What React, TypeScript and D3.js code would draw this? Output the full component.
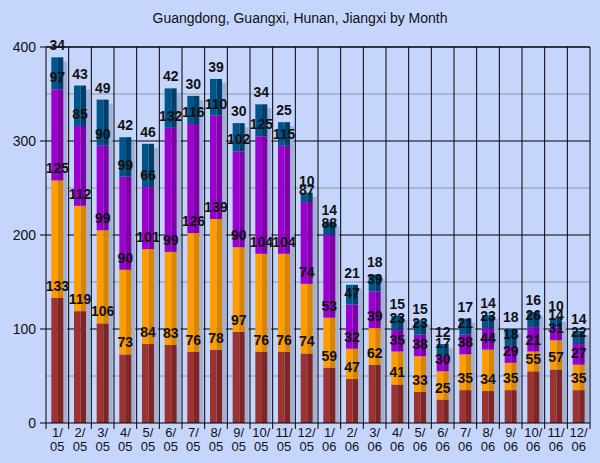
import React from "react";
import * as d3 from "d3";

const months = ["1/05","2/05","3/05","4/05","5/05","6/05","7/05","8/05","9/05","10/05","11/05","12/05","1/06","2/06","3/06","4/06","5/06","6/06","7/06","8/06","9/06","10/06","11/06","12/06"];
const guangdong = [133,119,106,73,84,83,76,78,97,76,76,74,59,47,62,41,33,25,35,34,35,55,57,35];
const guangxi = [125,112,99,90,101,99,126,139,90,104,104,74,53,32,39,35,38,30,38,44,29,21,31,27];
const hunan = [97,85,90,99,66,132,116,110,102,125,115,87,88,47,39,23,23,17,21,23,18,26,14,22];
const jiangxi = [34,43,49,42,46,42,30,39,30,34,25,10,14,21,18,15,15,12,17,14,18,16,10,14];
const seriesNames = ["Guangdong","Guangxi","Hunan","Jiangxi"];
const yTicks = [0,100,200,300,400];
const minorTicks = [50,150,250,350];

const lightColors = ["#9c3333","#ff9c00","#9c00cf","#00558a"];
const darkColors = ["#7c2626","#d98400","#7d00a8","#003f69"];

const W = 600, H = 463;
const left = 46, right = 590, top = 47, bottom = 423;

export default function App() {
  const x = d3.scaleBand<string>().domain(months).range([left, right]).padding(0);
  const y = d3.scaleLinear().domain([0, 400]).range([bottom, top]);
  const table = months.map((m, i) => ({ month: m, Guangdong: guangdong[i], Guangxi: guangxi[i], Hunan: hunan[i], Jiangxi: jiangxi[i] }));
  const stacked = d3.stack<any>().keys(seriesNames)(table);
  const bw = x.bandwidth();
  const barW = bw * 0.53;
  const barOff = (bw - barW) / 2;
  const lightW = barW * 0.55;
  const font = "'Liberation Sans', Arial, sans-serif";

  return (
    <div style={{ position: "fixed", left: 0, top: 0 }}>
      <svg width={W} height={H} style={{ display: "block" }} fontFamily={font}>
        <rect x={0} y={0} width={W} height={H} fill="#c6d5fb" />
        <text x={300} y={23} textAnchor="middle" fontSize={14} fill="#111">Guangdong, Guangxi, Hunan, Jiangxi by Month</text>
        {minorTicks.map(t => (
          <line key={"m" + t} x1={left} x2={right} y1={y(t)} y2={y(t)} stroke="#8c94ac" strokeWidth={1} />
        ))}
        {yTicks.filter(t => t > 0).map(t => (
          <line key={"g" + t} x1={left} x2={right} y1={y(t)} y2={y(t)} stroke="#000" strokeWidth={1} />
        ))}
        {months.map((m) => (
          <line key={"v" + m} x1={(x(m) as number) + bw} x2={(x(m) as number) + bw} y1={top} y2={bottom + 6} stroke="#000" strokeWidth={1} />
        ))}
        {months.map((m, i) => {
          const total = guangdong[i] + guangxi[i] + hunan[i] + jiangxi[i];
          const bx = (x(m) as number) + barOff;
          return (
            <rect key={"s" + m} x={bx + barW} y={y(total) + 4} width={4} height={bottom - y(total) - 4} fill="#a3afd3" />
          );
        })}
        {stacked.map((s, si) => (
          <g key={s.key}>
            {s.map((d, i) => {
              const bx = (x(months[i]) as number) + barOff;
              const y0 = y(d[0]), y1 = y(d[1]);
              return (
                <g key={i}>
                  <rect x={bx} y={y1} width={lightW} height={y0 - y1} fill={lightColors[si]} />
                  <rect x={bx + lightW} y={y1} width={barW - lightW} height={y0 - y1} fill={darkColors[si]} />
                </g>
              );
            })}
          </g>
        ))}
        <line x1={left} x2={right} y1={top} y2={top} stroke="#000" />
        <line x1={left} x2={left} y1={top} y2={bottom + 6} stroke="#000" />
        <line x1={left} x2={right} y1={bottom} y2={bottom} stroke="#000" />
        {yTicks.map(t => (
          <g key={"t" + t}>
            <line x1={left - 6} x2={left} y1={y(t)} y2={y(t)} stroke="#000" />
            <text x={36} y={y(t) + 5} textAnchor="end" fontSize={14} fill="#111">{t}</text>
          </g>
        ))}
        {months.map(m => {
          const [a, b] = m.split("/");
          const cx = (x(m) as number) + bw / 2;
          return (
            <text key={"xl" + m} x={cx} textAnchor="middle" fontSize={13} fill="#111">
              <tspan x={cx} y={437}>{a}/</tspan>
              <tspan x={cx} y={451}>{b}</tspan>
            </text>
          );
        })}
        {stacked.map((s, si) => (
          <g key={"l" + s.key}>
            {s.map((d, i) => {
              const cx = (x(months[i]) as number) + bw / 2;
              return (
                <text key={i} x={cx} y={y(d[1]) - 7} textAnchor="middle" fontSize={14} fontWeight="bold" fill="#111">{d[1] - d[0]}</text>
              );
            })}
          </g>
        ))}
      </svg>
    </div>
  );
}
